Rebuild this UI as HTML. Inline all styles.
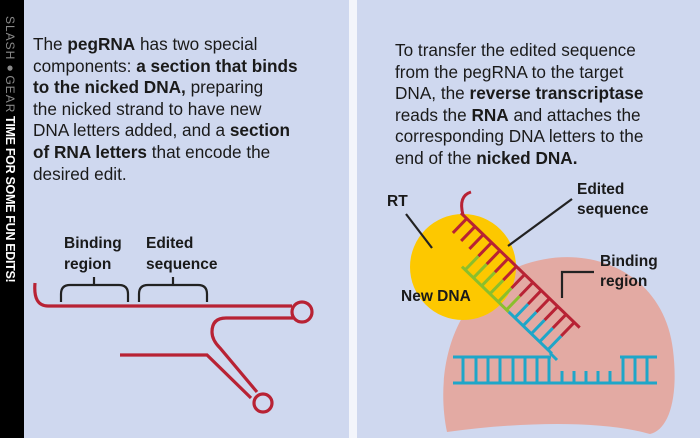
<!DOCTYPE html>
<html><head><meta charset="utf-8"><style>
*{margin:0;padding:0}
body{width:700px;height:438px;position:relative;overflow:hidden;background:#f3f5fb;font-family:"Liberation Sans",sans-serif}
.strip{position:absolute;left:0;top:0;width:24px;height:438px;background:#000}
.p{position:absolute;top:0;height:438px;background:#cfd8ef}
.t{position:absolute;font-size:17.2px;line-height:21.6px;color:#1a1a1a;white-space:nowrap}
.t b{font-weight:bold}
.v{position:absolute;left:3px;writing-mode:vertical-rl;white-space:nowrap}
</style></head><body>
<div class="strip">
<div class="v" style="top:16px;font-size:12px;color:#8a8a8a;letter-spacing:1px">SLASH●GEAR</div>
<div class="v" style="top:116px;font-size:12.5px;color:#fff;font-weight:bold;letter-spacing:-0.3px">TIME FOR SOME FUN EDITS!</div>
</div>
<div class="p" style="left:24px;width:325px"></div>
<div class="p" style="left:357px;width:343px"></div>
<div class="t" style="left:33px;top:34px">The <b>pegRNA</b> has two special<br>components: <b>a section that binds</b><br><b>to the nicked DNA,</b> preparing<br>the nicked strand to have new<br>DNA letters added, and a <b>section</b><br><b>of RNA letters</b> that encode the<br>desired edit.</div>
<div class="t" style="left:395px;top:40px">To transfer the edited sequence<br>from the pegRNA to the target<br>DNA, the <b>reverse transcriptase</b><br>reads the <b>RNA</b> and attaches the<br>corresponding DNA letters to the<br>end of the <b>nicked DNA.</b></div>
<svg width="700" height="438" style="position:absolute;left:0;top:0" font-family="Liberation Sans, sans-serif" font-weight="bold" font-size="15.5" fill="#1a1a1a">
<text x="64" y="248">Binding</text><text x="64" y="269">region</text>
<text x="146" y="248">Edited</text><text x="146" y="269">sequence</text>
<g fill="none" stroke="#222" stroke-width="2.2">
<path d="M61 302 V294 Q61 285 70 285 H119 Q128 285 128 294 V302 M94 277 V285"/>
<path d="M139 302 V294 Q139 285 148 285 H198 Q207 285 207 294 V302 M173 277 V285"/>
</g>
<g fill="none" stroke="#b82234" stroke-width="3.2">
<path d="M35 283 Q33 306 48 306 H292"/>
<circle cx="302" cy="312" r="10"/>
<path d="M293 318 H226 Q212 318 212 332 Q212 340 220 348 L257 392"/>
<path d="M120 355 H207 L251 398"/>
<circle cx="263" cy="403" r="9"/>
</g>
<path d="M447 432 C436 380 446 298 520 266 C588 240 664 272 673 350 C679 400 668 430 650 434 C600 420 520 422 447 432 Z" fill="#e3aaa3"/>
<circle cx="463" cy="267" r="53" fill="#fdc800"/>
<g stroke="#1fa6c8" stroke-width="3" fill="none">
<path d="M453 357 H551 M620 357 H657 M453 383 H657"/>
<path d="M463 357V383M476 357V383M488 357V383M500 357V383M513 357V383M525 357V383M537 357V383M549 357V383M562 371V383M574 371V383M586 371V383M598 371V383M610 371V383M623 357V383M635 357V383M647 357V383"/>
</g>
<g transform="translate(461 213) rotate(44)" fill="none" stroke-width="3">
<path d="M38 38 H103" stroke="#8bbf2c"/>
<path d="M103 38 H163" stroke="#1fa6c8"/>
<path d="M8 0V20M19.5 0V20M31 0V20" stroke="#b82234"/>
<path d="M42.5 0V19M54 0V19M65.5 0V19M77 0V19M88.5 0V19M100 0V19M111.5 0V19M123 0V19M134.5 0V19M146 0V19M157.5 0V19" stroke="#b82234"/>
<path d="M42.5 19V38M54 19V38M65.5 19V38M77 19V38M88.5 19V38M100 19V38" stroke="#8bbf2c"/>
<path d="M111.5 19V38M123 19V38M134.5 19V38M146 19V38M157.5 19V38" stroke="#1fa6c8"/>
<path d="M0 0 H165" stroke="#b82234"/>
</g>
<path d="M463 215 Q458 196 471 192" fill="none" stroke="#b82234" stroke-width="3"/>
<path d="M550 353 L557 360" stroke="#1fa6c8" stroke-width="3"/>
<text x="387" y="206">RT</text>
<text x="577" y="194">Edited</text><text x="577" y="214">sequence</text>
<text x="600" y="266">Binding</text><text x="600" y="286">region</text>
<text x="401" y="301">New DNA</text>
<g stroke="#222" stroke-width="2.2" fill="none">
<path d="M406 214 L432 248"/>
<path d="M572 199 L508 246"/>
<path d="M594 272 H562 V298"/>
</g>
</svg>
</body></html>
